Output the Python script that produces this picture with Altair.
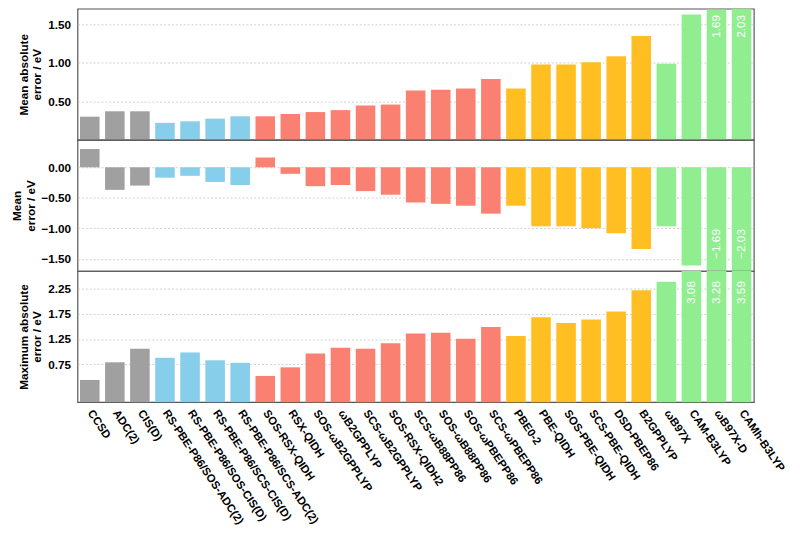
import altair as alt
import pandas as pd

methods = ["CCSD", "ADC(2)", "CIS(D)",
           "RS-PBE-P86/SOS-ADC(2)", "RS-PBE-P86/SOS-CIS(D)", "RS-PBE-P86/SCS-CIS(D)", "RS-PBE-P86/SCS-ADC(2)",
           "SOS-RSX-QIDH", "RSX-QIDH", "SOS-ωB2GPPLYP", "ωB2GPPLYP", "SCS-ωB2GPPLYP", "SOS-RSX-QIDH2",
           "SCS-ωB88PP86", "SOS-ωB88PP86", "SOS-ωPBEPP86", "SCS-ωPBEPP86",
           "PBE0-2", "PBE-QIDH", "SOS-PBE-QIDH", "SCS-PBE-QIDH", "DSD-PBEP86", "B2GPPLYP",
           "ωB97X", "CAM-B3LYP", "ωB97X-D", "CAMh-B3LYP"]
groups = ["wf"] * 3 + ["rs"] * 4 + ["rsdh"] * 10 + ["dh"] * 6 + ["hyb"] * 4
mae = [0.30, 0.37, 0.37, 0.22, 0.24, 0.275, 0.305, 0.305, 0.335, 0.36, 0.385, 0.445, 0.457,
       0.64, 0.648, 0.665, 0.788, 0.665, 0.978, 0.978, 1.004, 1.084, 1.347, 0.987, 1.626, 1.69, 2.03]
me = [0.30, -0.37, -0.30, -0.17, -0.14, -0.24, -0.29, 0.16, -0.107, -0.31, -0.29, -0.39, -0.45,
      -0.577, -0.60, -0.63, -0.76, -0.63, -0.967, -0.967, -1.0, -1.08, -1.34, -0.967, -1.61, -1.69, -2.03]
maxe = [0.44, 0.79, 1.06, 0.88, 0.985, 0.83, 0.78, 0.52, 0.69, 0.965, 1.076, 1.06, 1.167,
        1.36, 1.374, 1.257, 1.49, 1.31, 1.685, 1.57, 1.64, 1.796, 2.22, 2.385, 3.08, 3.28, 3.59]

group_names = ["wf", "rs", "rsdh", "dh", "hyb"]
group_colors = ["#A0A0A0", "#87CEEB", "#FA8072", "#FFBF22", "#90EE90"]

df = pd.DataFrame({"method": methods, "group": groups, "mae": mae, "me": me, "maxe": maxe})

FONT = "Liberation Sans"
W, H = 691, 134

x_scale = alt.Scale(paddingInner=0.22, paddingOuter=0.1)
color = alt.Color("group:N", scale=alt.Scale(domain=group_names, range=group_colors), legend=None)


def panel(field, title, domain, ticks, filt, lab_y, lab_align, show_x):
    if show_x:
        xaxis = alt.Axis(labelAngle=56, labelAlign="left", labelBaseline="middle", labelPadding=9,
                         ticks=False, domain=False, labelFont=FONT, labelFontWeight="bold",
                         labelFontSize=11.5, labelColor="black", labelLimit=0, title=None)
    else:
        xaxis = None
    x = alt.X("method:N", sort=methods, scale=x_scale, axis=xaxis, title=None)
    yscale = alt.Scale(domain=domain, clamp=True, nice=False, zero=False)
    bars = alt.Chart(df).mark_bar().encode(
        x=x,
        y=alt.Y(f"{field}:Q", scale=yscale,
                axis=alt.Axis(values=ticks, format=".2f", title=title, grid=True,
                              gridColor="#cfcfcf", gridDash=[2, 2], ticks=False, domain=False,
                              labelPadding=7, labelFont=FONT, labelFontWeight="bold",
                              labelFontSize=12, labelColor="black", titleFont=FONT,
                              titleFontWeight="bold", titleFontSize=12, titleColor="black",
                              titlePadding=4)),
        color=color,
    )
    text = alt.Chart(df).transform_filter(filt).transform_calculate(
        lab_y=str(lab_y)
    ).mark_text(angle=270, align=lab_align, baseline="middle", color="white",
                fontSize=12, font=FONT).encode(
        x=x,
        y=alt.Y("lab_y:Q", scale=yscale),
        text=alt.Text(f"{field}:Q", format=".2f"),
    )
    return alt.layer(bars, text).properties(width=W, height=H)


top = panel("mae", ["Mean absolute", "error / eV"], [0, 1.7], [0.5, 1.0, 1.5],
            "datum.mae > 1.65", 1.62, "right", False)
mid = panel("me", ["Mean", "error / eV"], [-1.7, 0.45], [0.0, -0.5, -1.0, -1.5],
            "datum.me < -1.65", -1.5, "left", False)
bot = panel("maxe", ["Maximum absolute", "error / eV"], [0, 2.6], [0.75, 1.25, 1.75, 2.25],
            "datum.maxe > 2.6", 2.4, "right", True)

chart = alt.vconcat(top, mid, bot, spacing=0, bounds="flush").properties(
    padding={"left": 2, "top": -6, "right": 5, "bottom": 0}
).configure_view(stroke="#555555", strokeWidth=1.2).configure_concat(spacing=0)

chart.save("out.html", embed_options={"renderer": "svg", "actions": False})
